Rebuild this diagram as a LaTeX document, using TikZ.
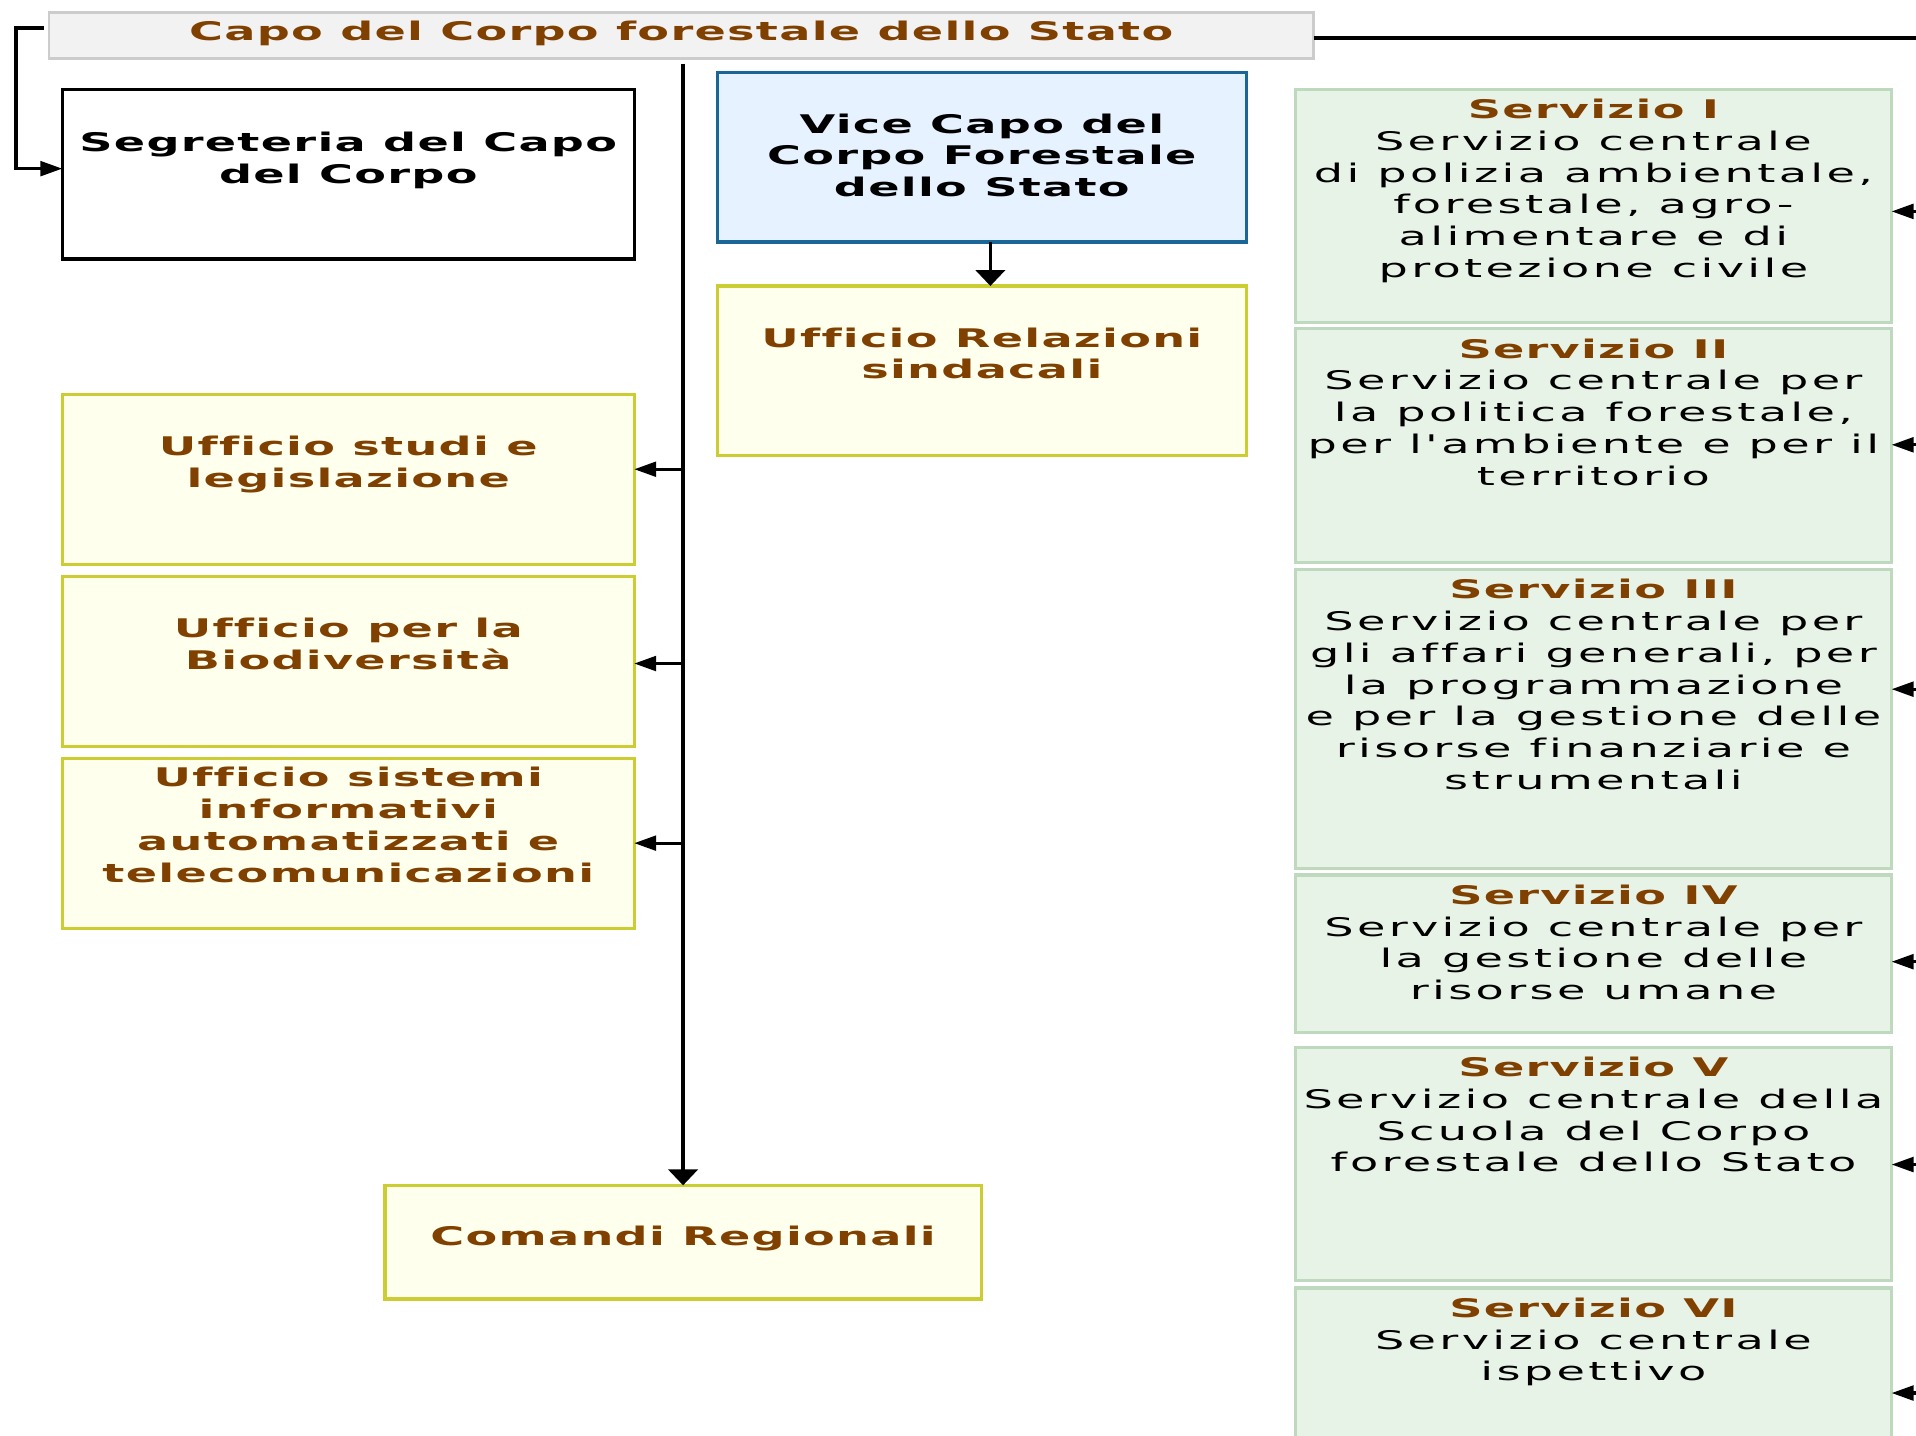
\documentclass[tikz,border=0pt]{standalone}
\usepackage{fontspec}
\usetikzlibrary{arrows.meta,calc}
\newfontfamily\regf{DejaVu Sans}[FakeStretch=1.8,LetterSpace=13,Ligatures={TeXOff,NoCommon}]
\newfontfamily\boldf{DejaVu Sans}[FakeStretch=1.8,LetterSpace=5,Ligatures={TeXOff,NoCommon}]
\definecolor{brn}{HTML}{804000}
\definecolor{yfill}{HTML}{FFFFEE}
\definecolor{ydraw}{HTML}{CCCC33}
\definecolor{gfill}{HTML}{E8F3E8}
\definecolor{gdraw}{HTML}{BFD9BF}
\definecolor{bfill}{HTML}{E6F2FF}
\definecolor{bdraw}{HTML}{1A6696}
\definecolor{cfill}{HTML}{F2F2F2}
\definecolor{cdraw}{HTML}{CCCCCC}
\newcommand\txtsz{\fontsize{10.5pt}{13pt}\selectfont}
\newcommand\bt[4]{\begin{minipage}[t][\dimexpr0.5pt*#2\relax][t]{\dimexpr0.5pt*#1\relax}\centering\vspace*{\dimexpr0.5pt*#3-9.1pt\relax}\strut#4\end{minipage}}
\newcommand\ti[1]{{\boldf\bfseries\color{brn}#1}}
\newcommand\tb[1]{{\boldf\bfseries\color{black}#1}}
\tikzset{
  x=0.5pt, y=-0.5pt,
  every node/.style={inner sep=0pt, outer sep=0pt, anchor=north west, font=\regf\txtsz},
  cbox/.style={draw=cdraw, fill=cfill, line width=1.1pt},
  wbox/.style={draw=black, fill=white, line width=1.3pt},
  bbox/.style={draw=bdraw, fill=bfill, line width=1.3pt},
  ybox/.style={draw=ydraw, fill=yfill, line width=1.3pt},
  gbox/.style={draw=gdraw, fill=gfill, line width=1.3pt},
  conn/.style={line width=1.35pt},
  harr/.style={conn, -{Triangle[length=9pt,width=6pt]}},
  varr/.style={conn, -{Triangle[length=6.5pt,width=12pt]}},
}
\begin{document}
\begin{tikzpicture}
\useasboundingbox (0,0) rectangle (1568,1175);
\clip (0,0) rectangle (1568,1175);
\fill[white] (0,0) rectangle (1568,1175);

% top box
\node[cbox] (capo) at (40,10) {\bt{1035}{38}{23}{\ti{Capo del Corpo forestale dello Stato}}};

% left column
\node[wbox] (segr) at (51,73) {\bt{468}{139}{51}{\tb{Segreteria del Capo\\del Corpo}}};
\node[ybox] (studi) at (51,323) {\bt{468}{139}{50}{\ti{Ufficio studi e\\legislazione}}};
\node[ybox] (biod) at (51,472) {\bt{468}{139}{50}{\ti{Ufficio per la\\Biodiversità}}};
\node[ybox] (sist) at (51,621) {\bt{468}{139}{23}{\ti{Ufficio sistemi\\informativi\\automatizzati e\\telecomunicazioni}}};
\node[ybox] (com) at (315,970) {\bt{488}{93}{49}{\ti{Comandi Regionali}}};

% middle column
\node[bbox] (vice) at (587,59) {\bt{433}{139}{50}{\tb{Vice Capo del\\Corpo Forestale\\dello Stato}}};
\node[ybox] (rel) at (587,234) {\bt{433}{139}{50}{\ti{Ufficio Relazioni\\sindacali}}};

% right column
\node[gbox] (s1) at (1060,73) {\bt{488}{191}{24}{\ti{Servizio I}\\Servizio centrale\\di polizia ambientale,\\forestale, agro-\\alimentare e di\\protezione civile}};
\node[gbox] (s2) at (1060,269) {\bt{488}{191}{24}{\ti{Servizio II}\\Servizio centrale per\\la politica forestale,\\per l'ambiente e per il\\territorio}};
\node[gbox] (s3) at (1060,466) {\bt{488}{245}{24}{\ti{Servizio III}\\Servizio centrale per\\gli affari generali, per\\la programmazione\\e per la gestione delle\\risorse finanziarie e\\strumentali}};
\node[gbox] (s4) at (1060,716) {\bt{488}{129}{24}{\ti{Servizio IV}\\Servizio centrale per\\la gestione delle\\risorse umane}};
\node[gbox] (s5) at (1060,857) {\bt{488}{191}{24}{\ti{Servizio V}\\Servizio centrale della\\Scuola del Corpo\\forestale dello Stato}};
\node[gbox] (s6) at (1060,1054) {\bt{488}{191}{24}{\ti{Servizio VI}\\Servizio centrale\\ispettivo}};

% connectors
\coordinate (bk) at (13,23);
\draw[harr] ($(capo.north west)+(-4,13)$) -- (bk) |- ($(segr.north west)+(0,65)$);
\coordinate (rt) at (1580,31);
\draw[conn] ($(capo.north east)+(0,21)$) -- (rt);
\coordinate (vt) at (559,52);
\draw[varr] (vt) -- (com.north);
\coordinate (a1) at ($(studi.north east)+(0,61)$);
\coordinate (a2) at ($(biod.north east)+(0,71)$);
\coordinate (a3) at ($(sist.north east)+(0,69)$);
\draw[harr] (vt |- a1) -- (a1);
\draw[harr] (vt |- a2) -- (a2);
\draw[harr] (vt |- a3) -- (a3);
\draw[varr] ($(vice.south)+(7,0)$) -- ($(rel.north)+(7,0)$);

\coordinate (r1) at ($(s1.north east)+(0,100)$);
\coordinate (r2) at ($(s2.north east)+(0,95)$);
\coordinate (r3) at ($(s3.north east)+(0,98)$);
\coordinate (r4) at ($(s4.north east)+(0,71)$);
\coordinate (r5) at ($(s5.north east)+(0,96)$);
\coordinate (r6) at ($(s6.north east)+(0,86)$);
\draw[harr] (rt |- r1) -- (r1);
\draw[harr] (rt |- r2) -- (r2);
\draw[harr] (rt |- r3) -- (r3);
\draw[harr] (rt |- r4) -- (r4);
\draw[harr] (rt |- r5) -- (r5);
\draw[harr] (rt |- r6) -- (r6);
\end{tikzpicture}
\end{document}
